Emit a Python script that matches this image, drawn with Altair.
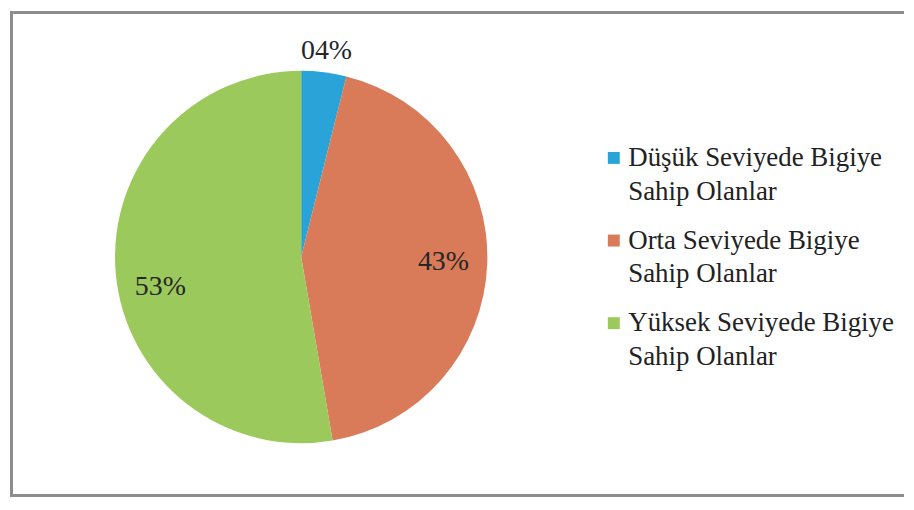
import altair as alt
import pandas as pd

categories = [
    "Düşük Seviyede Bigiye Sahip Olanlar",
    "Orta Seviyede Bigiye Sahip Olanlar",
    "Yüksek Seviyede Bigiye Sahip Olanlar",
]
shares = [3.9, 43.4, 52.7]
share_labels = ["04%", "43%", "53%"]
slice_order = [0, 1, 2]
colors = ["#2aa3d9", "#d97b58", "#9cc95c"]

df = pd.DataFrame({
    "category": categories,
    "share": shares,
    "label": share_labels,
    "order": slice_order,
})

W, H = 898, 488
CX, CY = 292.5, 247
R = 187
FONT = "Liberation Serif"

base = alt.Chart(df).encode(
    theta=alt.Theta("share:Q", stack=True),
    order=alt.Order("order:Q"),
    x=alt.value(CX),
    y=alt.value(CY),
)

pie = base.mark_arc(radius=R).encode(
    color=alt.Color(
        "category:N",
        scale=alt.Scale(domain=categories, range=colors),
        legend=alt.Legend(
            title=None,
            orient="none",
            legendX=593,
            legendY=134,
            padding=0,
            symbolType="square",
            symbolSize=144,
            symbolStrokeWidth=0,
            labelFont=FONT,
            labelFontSize=27,
            labelColor="#222222",
            labelOffset=1,
            labelLimit=0,
            rowPadding=21,
            labelExpr="split(replace(datum.label, ' Sahip', '|Sahip'), '|')",
        ),
    )
)

txt_outer = base.mark_text(radius=208, font=FONT, fontSize=28, color="#262626").encode(
    text=alt.condition(alt.datum.order == 0, "label:N", alt.value(""))
)
txt_right = base.mark_text(radius=143, font=FONT, fontSize=28, color="#262626").encode(
    text=alt.condition(alt.datum.order == 1, "label:N", alt.value(""))
)
txt_left = base.mark_text(radius=142, dy=18, font=FONT, fontSize=28, color="#262626").encode(
    text=alt.condition(alt.datum.order == 2, "label:N", alt.value(""))
)

border_color = "#8c8c8c"
left_rule = alt.Chart(df).mark_rule(color=border_color, strokeWidth=2.5).encode(
    x=alt.value(1.5), y=alt.value(0), y2=alt.value(H)
)
top_rule = alt.Chart(df).mark_rule(color=border_color, strokeWidth=2.5).encode(
    x=alt.value(0), x2=alt.value(W), y=alt.value(1.5)
)
bottom_rule = alt.Chart(df).mark_rule(color=border_color, strokeWidth=2.5).encode(
    x=alt.value(0), x2=alt.value(W), y=alt.value(H - 1.5)
)

chart = alt.layer(
    pie, txt_outer, txt_right, txt_left, left_rule, top_rule, bottom_rule
).properties(
    width=W, height=H, padding=0, background="white"
).configure(
    style={"guide-label": {"lineHeight": 34}},
    view=alt.ViewConfig(stroke="transparent", strokeWidth=0, strokeOpacity=0),
)

chart.save("out.html", embed_options={"renderer": "svg", "actions": False})
